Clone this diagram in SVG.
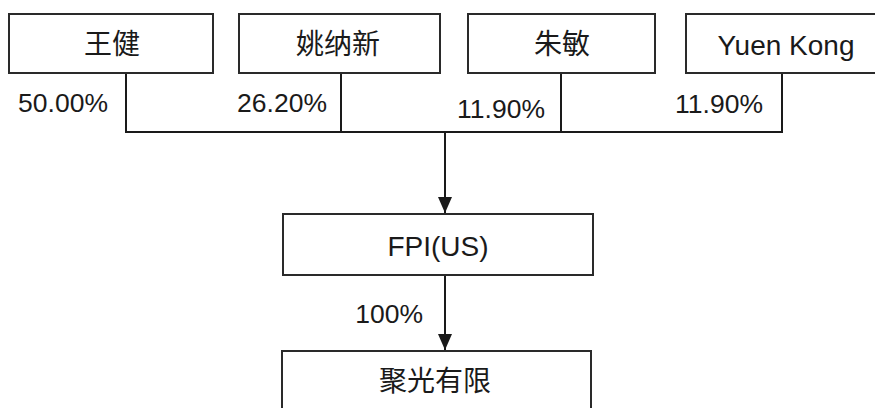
<svg xmlns="http://www.w3.org/2000/svg" width="875" height="408" viewBox="0 0 875 408">
<style>
.box{fill:#fff;stroke:#2a2a2a;stroke-width:2}
.ln{fill:none;stroke:#1a1a1a;stroke-width:2}
text{font-family:"Liberation Sans","Noto Sans CJK SC",sans-serif;fill:#1a1a1a}
.nm{font-size:28px;text-anchor:middle}
.pc{font-size:26.5px;text-anchor:end}
</style>
<defs>
<marker id="ah" markerUnits="userSpaceOnUse" markerWidth="16" markerHeight="14" refX="16" refY="7" orient="auto">
<path d="M0,0 L16,7 L0,14 Z" fill="#1a1a1a"/>
</marker>
</defs>
<rect width="875" height="408" fill="#fff"/>
<g id="connectors">
<path class="ln" d="M126,73 V132 M341,73 V132 M561,73 V132 M782,73 V132 M125,132 H783"/>
<path class="ln" d="M445,132 V213" marker-end="url(#ah)"/>
<path class="ln" d="M445,275 V350" marker-end="url(#ah)"/>
<text class="pc" x="108" y="112">50.00%</text>
<text class="pc" x="327" y="112">26.20%</text>
<text class="pc" x="545" y="118">11.90%</text>
<text class="pc" x="763" y="113">11.90%</text>
<text class="pc" x="423" y="323">100%</text>
</g>
<g id="n1"><rect class="box" x="9" y="14" width="204" height="59"/><text class="nm" x="112" y="54">王健</text></g>
<g id="n2"><rect class="box" x="239" y="14" width="201" height="59"/><text class="nm" x="338" y="54">姚纳新</text></g>
<g id="n3"><rect class="box" x="468" y="14" width="187" height="59"/><text class="nm" x="562" y="54">朱敏</text></g>
<g id="n4"><rect class="box" x="686" y="14" width="200" height="59"/><text class="nm" x="786" y="55">Yuen Kong</text></g>
<g id="n5"><rect class="box" x="283" y="214" width="310" height="61"/><text class="nm" x="438" y="256">FPI(US)</text></g>
<g id="n6"><rect class="box" x="282" y="351" width="309" height="70"/><text class="nm" x="435" y="391">聚光有限</text></g>
</svg>
